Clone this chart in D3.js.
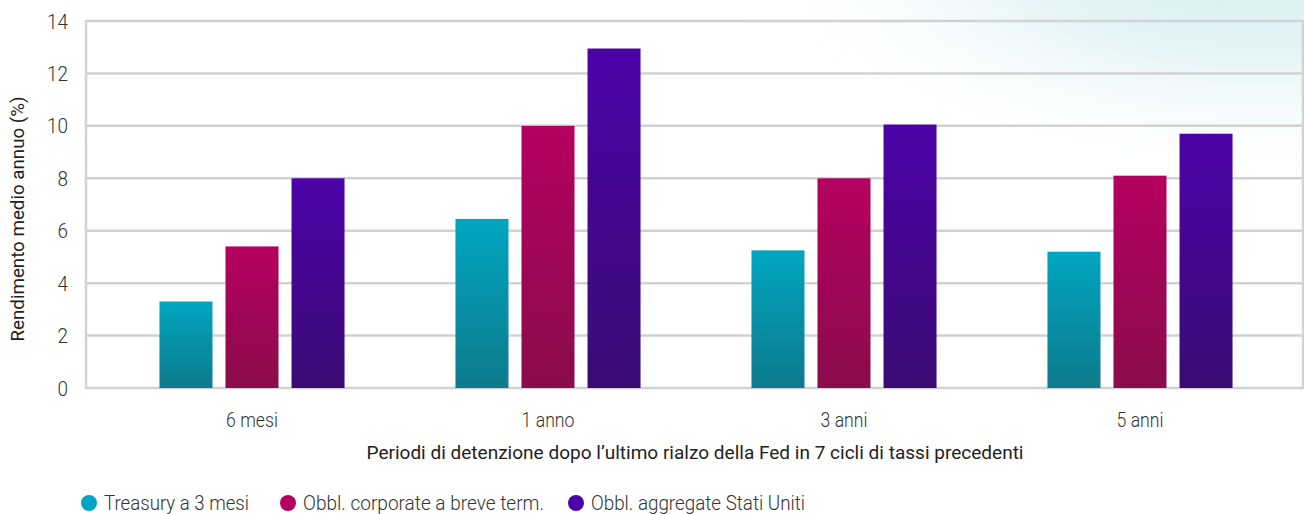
<!DOCTYPE html>
<html>
<head>
<meta charset="utf-8">
<script src="https://cdn.jsdelivr.net/npm/d3@7"></script>
<style>
  html, body { margin: 0; padding: 0; background: #fff; }
  svg { display: block; font-family: Roboto, "Liberation Sans", sans-serif; }
</style>
</head>
<body>
<svg id="chart" width="1304" height="514"></svg>
<script>
// Holding periods after the last Fed hike
const periods = ["6 mesi", "1 anno", "3 anni", "5 anni"];
const seriesNames = ["Treasury a 3 mesi", "Obbl. corporate a breve term.", "Obbl. aggregate Stati Uniti"];
// Average annual return (%) per series, one value per holding period
const treasury3m = [3.3, 6.45, 5.25, 5.2];
const corporateShort = [5.4, 10.0, 8.0, 8.1];
const aggregateUS = [8.0, 12.95, 10.05, 9.7];
const yTicks = [0, 2, 4, 6, 8, 10, 12, 14];

const seriesValues = [treasury3m, corporateShort, aggregateUS];
const topColors = ["#00a6c1", "#b50060", "#4c02a8"];
const bottomColors = ["#0e7a8c", "#8a0c4b", "#3b0b73"];
const legendColors = ["#00a6c1", "#b50060", "#4c02a8"];

const svg = d3.select("#chart");
const W = 1304, H = 514;
const plot = { left: 86, right: 1303, top: 21, bottom: 388 };

const defs = svg.append("defs");

// soft cyan wash in the upper-right corner
const wash = defs.append("radialGradient")
  .attr("id", "wash").attr("gradientUnits", "userSpaceOnUse")
  .attr("cx", 1260).attr("cy", -60).attr("r", 460)
  .attr("gradientTransform", "translate(1260,-60) scale(1.2,0.55) translate(-1260,60)");
wash.append("stop").attr("offset", "0%").attr("stop-color", "#d2ecf1");
wash.append("stop").attr("offset", "45%").attr("stop-color", "#e4f4f7");
wash.append("stop").attr("offset", "100%").attr("stop-color", "#ffffff").attr("stop-opacity", 0);
svg.append("rect").attr("width", W).attr("height", H).attr("fill", "#fff");
svg.append("rect").attr("width", W).attr("height", H).attr("fill", "url(#wash)");

seriesValues.forEach((_, i) => {
  const g = defs.append("linearGradient").attr("id", "bar" + i)
    .attr("x1", 0).attr("y1", 0).attr("x2", 0).attr("y2", 1);
  g.append("stop").attr("offset", "0%").attr("stop-color", topColors[i]);
  g.append("stop").attr("offset", "100%").attr("stop-color", bottomColors[i]);
});

const y = d3.scaleLinear().domain([0, 14]).range([plot.bottom, plot.top]);
const x0 = d3.scaleBand().domain(periods).range([104, 1288]).paddingInner(0).paddingOuter(0);
const x1 = d3.scaleBand().domain(d3.range(seriesNames.length))
  .range([0, x0.bandwidth()]).paddingInner(0.197).paddingOuter(0.84);

// condensed look: squeeze a text element horizontally to a share of its natural width
function squeeze(sel, k) {
  sel.each(function() {
    const n = this.getComputedTextLength();
    d3.select(this).attr("textLength", n * k).attr("lengthAdjust", "spacingAndGlyphs");
  });
}

// horizontal gridlines
const grid = svg.append("g");
grid.selectAll("line").data(yTicks).join("line")
  .attr("x1", plot.left).attr("x2", plot.right)
  .attr("y1", d => y(d)).attr("y2", d => y(d))
  .attr("stroke", "#d2d2d2").attr("stroke-width", 2.5);
// left and right frame lines
[plot.left, plot.right].forEach(xx => {
  svg.append("line").attr("x1", xx).attr("x2", xx)
    .attr("y1", plot.top - 1).attr("y2", plot.bottom + 1)
    .attr("stroke", "#d2d2d2").attr("stroke-width", 2.5);
});

// y tick labels
const yAxis = d3.axisLeft(y).tickValues(yTicks).tickSize(0).tickPadding(0);
const ya = svg.append("g").attr("transform", `translate(68,0)`).call(yAxis);
ya.select(".domain").remove();
ya.selectAll("text").attr("font-size", 21).attr("font-weight", 300)
  .attr("fill", "#333").attr("font-family", "Roboto").attr("dy", "0.34em")
  .call(squeeze, 0.9);

// bars
const groups = svg.append("g").selectAll("g").data(periods).join("g")
  .attr("transform", d => `translate(${x0(d)},0)`);
groups.selectAll("rect")
  .data((p, pi) => seriesValues.map((vals, si) => ({ si, v: vals[pi] })))
  .join("rect")
  .attr("x", d => x1(d.si))
  .attr("width", x1.bandwidth())
  .attr("y", d => y(d.v))
  .attr("height", d => y(0) - y(d.v))
  .attr("fill", d => `url(#bar${d.si})`);

// x tick labels
const xAxis = d3.axisBottom(x0).tickSize(0).tickPadding(0);
const xa = svg.append("g").attr("transform", `translate(0,427)`).call(xAxis);
xa.select(".domain").remove();
xa.selectAll("text").attr("font-size", 21).attr("font-weight", 300)
  .attr("fill", "#333").attr("font-family", "Roboto").attr("dy", 0)
  .call(squeeze, 0.84);

// axis titles
svg.append("text")
  .attr("x", 695).attr("y", 459).attr("text-anchor", "middle")
  .attr("font-size", 18).attr("fill", "#222")
  .attr("textLength", 657).attr("lengthAdjust", "spacingAndGlyphs")
  .text("Periodi di detenzione dopo l\u2019ultimo rialzo della Fed in 7 cicli di tassi precedenti");

svg.append("text")
  .attr("transform", "translate(24,219) rotate(-90)")
  .attr("text-anchor", "middle").attr("font-size", 18).attr("fill", "#222")
  .attr("textLength", 245).attr("lengthAdjust", "spacingAndGlyphs")
  .text("Rendimento medio annuo (%)");

// legend
const legendX = [89, 288, 576];
const legendW = [145, 241, 214];
const lg = svg.append("g").selectAll("g").data(seriesNames).join("g")
  .attr("transform", (d, i) => `translate(${legendX[i]},503)`);
lg.append("circle").attr("r", 8).attr("fill", (d, i) => legendColors[i]);
lg.append("text").attr("x", 15).attr("y", 7).attr("font-size", 20).attr("font-weight", 300)
  .attr("fill", "#333")
  .attr("textLength", (d, i) => legendW[i]).attr("lengthAdjust", "spacingAndGlyphs")
  .text(d => d);
</script>
</body>
</html>
